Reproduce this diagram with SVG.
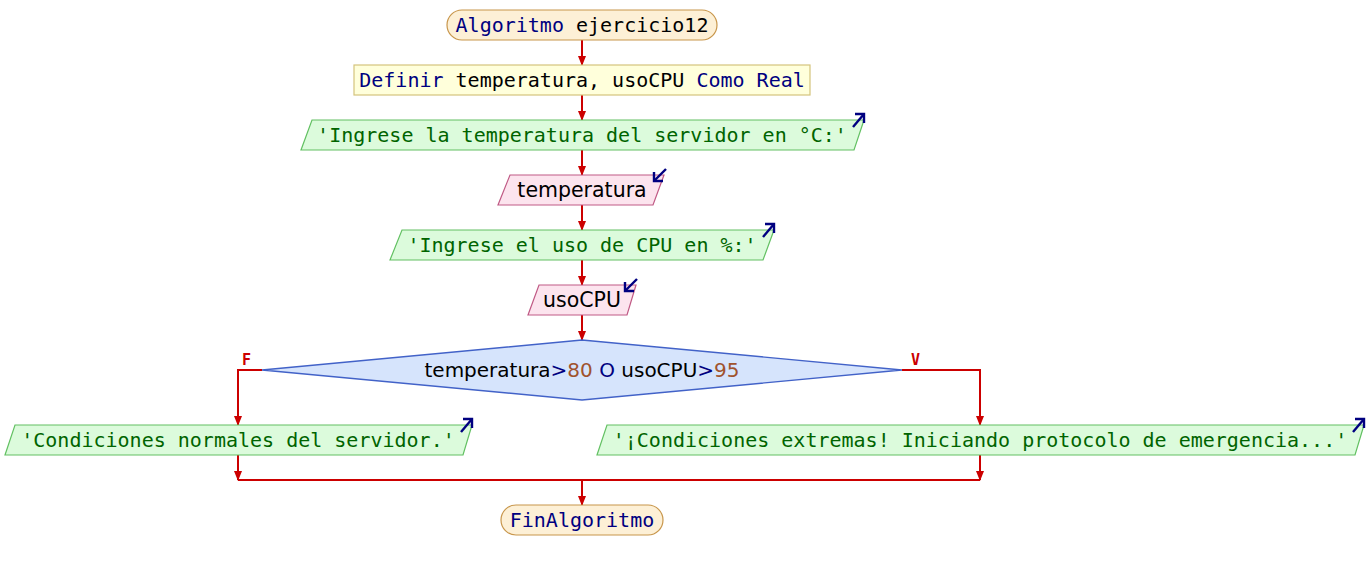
<svg xmlns="http://www.w3.org/2000/svg" width="1368" height="570" viewBox="0 0 1368 570">
<defs>
<marker id="ah" markerWidth="10" markerHeight="8" refX="9" refY="4" orient="auto" markerUnits="userSpaceOnUse">
<path d="M0,0 L10,4 L0,8 Z" fill="#cc0000"/>
</marker>
<style>
.term{fill:#fdf0d6;stroke:#c8964b;stroke-width:1.2}
.def{fill:#ffffdb;stroke:#d4c47c;stroke-width:1.2}
.out{fill:#dcfbdc;stroke:#62c062;stroke-width:1.2}
.inp{fill:#fce4ee;stroke:#c05a85;stroke-width:1.2}
.dec{fill:#d6e4fc;stroke:#4262c8;stroke-width:1.4}
.mono{font-family:"DejaVu Sans Mono",monospace;font-size:20px}
.sans{font-family:"DejaVu Sans",sans-serif;font-size:20.5px}
.dsans{font-family:"DejaVu Sans",sans-serif;font-size:20px}
.kw{fill:#000080}
.id{fill:#000000}
.str{fill:#006400}
.num{fill:#a0522d}
.lab{font-family:"DejaVu Sans Mono",monospace;font-size:15px;font-weight:bold;fill:#cc0000}
.ln{fill:none;stroke:#cc0000;stroke-width:2}
.ioa{fill:none;stroke:#000080;stroke-width:2.4}
</style>
</defs>
<g id="connectors">
<path class="ln" d="M582,40 V65" marker-end="url(#ah)"/>
<path class="ln" d="M582,95 V120" marker-end="url(#ah)"/>
<path class="ln" d="M582,150 V175" marker-end="url(#ah)"/>
<path class="ln" d="M582,205 V230" marker-end="url(#ah)"/>
<path class="ln" d="M582,260 V285" marker-end="url(#ah)"/>
<path class="ln" d="M582,315 V340" marker-end="url(#ah)"/>
<path class="ln" d="M262,370 H238 V425" marker-end="url(#ah)"/>
<path class="ln" d="M902,370 H980 V425" marker-end="url(#ah)"/>
<path class="ln" d="M238,455 V480" marker-end="url(#ah)"/>
<path class="ln" d="M980,455 V480" marker-end="url(#ah)"/>
<path class="ln" d="M238,480 H980"/>
<path class="ln" d="M582,480 V505" marker-end="url(#ah)"/>
<text class="lab" x="242" y="365">F</text>
<text class="lab" x="911" y="365">V</text>
</g>
<g id="start">
<rect class="term" x="447" y="10" width="270" height="30" rx="15" ry="15"/>
<text class="mono" x="582" y="32" text-anchor="middle"><tspan class="kw">Algoritmo</tspan><tspan class="id"> ejercicio12</tspan></text>
</g>
<g id="definir">
<rect class="def" x="354" y="65" width="456" height="30"/>
<text class="mono" x="582" y="87" text-anchor="middle"><tspan class="kw">Definir</tspan><tspan class="id"> temperatura, usoCPU </tspan><tspan class="kw">Como Real</tspan></text>
</g>
<g id="out1">
<polygon class="out" points="312,120 864,120 854,150 301,150"/>
<text class="mono str" x="582" y="142" text-anchor="middle">'Ingrese la temperatura del servidor en °C:'</text>
<path class="ioa" d="M853,127 L864,114"/>
<path class="ioa" d="M855,114 L864,114 L864,123"/>
</g>
<g id="in1">
<polygon class="inp" points="510,175 664,175 653,205 498,205"/>
<text class="sans id" x="582" y="197" text-anchor="middle">temperatura</text>
<path class="ioa" d="M666,169 L654,181"/>
<path class="ioa" d="M654,172 L654,181 L663,181"/>
</g>
<g id="out2">
<polygon class="out" points="402,230 774,230 763,260 390,260"/>
<text class="mono str" x="582" y="252" text-anchor="middle">'Ingrese el uso de CPU en %:'</text>
<path class="ioa" d="M763,237 L774,224"/>
<path class="ioa" d="M765,224 L774,224 L774,233"/>
</g>
<g id="in2">
<polygon class="inp" points="539,285 636,285 627,315 528,315"/>
<text class="sans id" x="582" y="307" text-anchor="middle">usoCPU</text>
<path class="ioa" d="M637,279 L625,291"/>
<path class="ioa" d="M625,282 L625,291 L634,291"/>
</g>
<g id="decision">
<polygon class="dec" points="582,340 902,370 582,400 262,370"/>
<text class="dsans" x="582" y="377" text-anchor="middle"><tspan class="id">temperatura</tspan><tspan class="kw">&gt;</tspan><tspan class="num">80</tspan><tspan class="kw"> O </tspan><tspan class="id">usoCPU</tspan><tspan class="kw">&gt;</tspan><tspan class="num">95</tspan></text>
</g>
<g id="outF">
<polygon class="out" points="15,425 472,425 463,455 5,455"/>
<text class="mono str" x="238" y="447" text-anchor="middle">'Condiciones normales del servidor.'</text>
<path class="ioa" d="M461,432 L472,419"/>
<path class="ioa" d="M463,419 L472,419 L472,428"/>
</g>
<g id="outV">
<polygon class="out" points="607,425 1364,425 1355,455 597,455"/>
<text class="mono str" x="980" y="447" text-anchor="middle">'¡Condiciones extremas! Iniciando protocolo de emergencia...'</text>
<path class="ioa" d="M1353,432 L1364,419"/>
<path class="ioa" d="M1355,419 L1364,419 L1364,428"/>
</g>
<g id="end">
<rect class="term" x="501" y="505" width="162" height="30" rx="15" ry="15"/>
<text class="mono kw" x="582" y="527" text-anchor="middle">FinAlgoritmo</text>
</g>
</svg>
